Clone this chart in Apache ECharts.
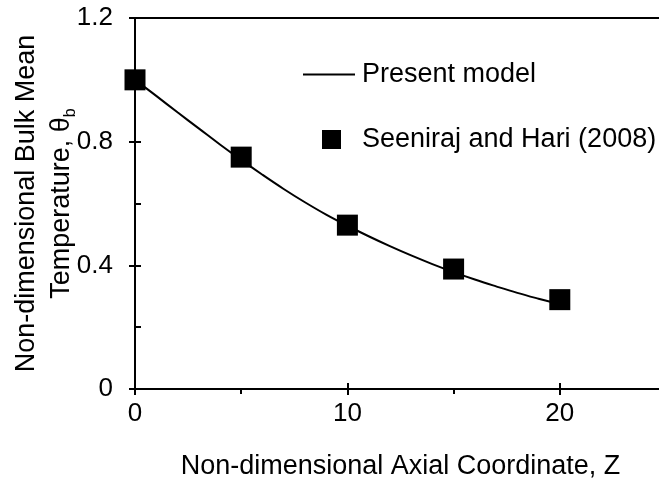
<!DOCTYPE html>
<html>
<head>
<meta charset="utf-8">
<script src="https://cdn.jsdelivr.net/npm/echarts@6/dist/echarts.min.js"></script>
<style>
  html, body { margin: 0; padding: 0; background: #fff; }
  #chart { width: 659px; height: 479px; }
</style>
</head>
<body>
<div id="chart"></div>
<script>
// present model curve
var zModel = [0, 1, 2, 3, 4, 5, 6, 7, 8, 9, 10, 11, 12, 13, 14, 15, 16, 17, 18, 19, 20];
var thetaModel = [1.0, 0.948, 0.895, 0.843, 0.791, 0.741, 0.693, 0.647, 0.604, 0.564, 0.528,
  0.494, 0.462, 0.432, 0.404, 0.378, 0.354, 0.332, 0.311, 0.292, 0.274];

// Seeniraj and Hari (2008)
var zRef = [0, 5, 10, 15, 20];
var thetaRef = [1.0, 0.75, 0.53, 0.388, 0.289];

var modelName = 'Present model';
var refName = 'Seeniraj and Hari (2008)';
var xTitle = 'Non-dimensional Axial Coordinate, Z';
var yTitle1 = 'Non-dimensional Bulk Mean';
var yTitle2 = 'Temperature, θ';

var font = 'Liberation Sans, Arial, sans-serif';
var ink = '#000';

var chart = echarts.init(document.getElementById('chart'));

var lineData = zModel.map(function (z, i) { return [z, thetaModel[i]]; });
var refData = zRef.map(function (z, i) { return [z, thetaRef[i]]; });

var option = {
  animation: false,
  backgroundColor: '#fff',
  textStyle: { fontFamily: font, color: ink },
  grid: {
    left: 135, top: 18, right: -7, bottom: 90,
    outerBoundsMode: 'none', containLabel: false,
    show: true, borderColor: ink, borderWidth: 2, backgroundColor: 'transparent'
  },
  legend: [
    {
      data: [{ name: modelName, icon: 'rect' }],
      left: 303, top: 61, padding: 0,
      itemWidth: 52, itemHeight: 2,
      textStyle: { fontFamily: font, fontSize: 27, color: ink, padding: [0, 0, 0, 2] }
    },
    {
      data: [{ name: refName, icon: 'rect' }],
      left: 322, top: 126, padding: 0,
      itemWidth: 19, itemHeight: 19,
      textStyle: { fontFamily: font, fontSize: 27, color: ink, padding: [0, 0, 0, 16] }
    }
  ],
  xAxis: [
    {
      type: 'value', min: 0, max: 25, interval: 10,
      splitLine: { show: false },
      axisLine: { onZero: false, lineStyle: { color: ink, width: 2 } },
      axisTick: { inside: false, length: 6, lineStyle: { color: ink, width: 2 } },
      minorTick: { show: true, splitNumber: 2, length: 5, lineStyle: { color: ink, width: 2 } },
      axisLabel: { fontFamily: font, fontSize: 26, color: ink, margin: 12, showMaxLabel: false },
      name: xTitle, nameLocation: 'middle', nameGap: 64, nameMoveOverlap: false,
      nameTextStyle: { fontFamily: font, fontSize: 27, color: ink }
    },
    {
      type: 'value', min: 0, max: 25, interval: 10, position: 'bottom',
      splitLine: { show: false },
      axisLine: { show: false },
      axisTick: { inside: true, length: 6, lineStyle: { color: ink, width: 2 } },
      axisLabel: { show: false }
    }
  ],
  yAxis: [
    {
      type: 'value', min: 0, max: 1.2, interval: 0.4,
      splitLine: { show: false },
      axisLine: { onZero: false, lineStyle: { color: ink, width: 2 } },
      axisTick: { inside: false, length: 6, lineStyle: { color: ink, width: 2 } },
      axisLabel: { fontFamily: font, fontSize: 26, color: ink, margin: 22 },
      name: '{t|' + yTitle1 + '}\n{t|' + yTitle2 + '}{s|b}',
      nameLocation: 'middle', nameRotate: 90, nameGap: 56, nameMoveOverlap: false,
      nameTextStyle: {
        fontFamily: font, color: ink,
        rich: {
          t: { fontFamily: font, fontSize: 27, color: ink, lineHeight: 35 },
          s: { fontFamily: font, fontSize: 16, color: ink, lineHeight: 35, verticalAlign: 'bottom', padding: [10, 0, 0, 0] }
        }
      }
    },
    {
      type: 'value', min: 0, max: 1.2, interval: 0.4, position: 'left',
      splitLine: { show: false },
      axisLine: { show: false },
      axisTick: { inside: true, length: 6, lineStyle: { color: ink, width: 2 } },
      minorTick: { show: true, splitNumber: 2, length: 6, lineStyle: { color: ink, width: 2 } },
      axisLabel: { show: false }
    }
  ],
  series: [
    {
      name: modelName,
      type: 'line',
      data: lineData,
      smooth: 0.4,
      symbol: 'none',
      lineStyle: { color: ink, width: 2 },
      itemStyle: { color: ink }
    },
    {
      name: refName,
      type: 'scatter',
      data: refData,
      symbol: 'rect',
      symbolSize: 21,
      itemStyle: { color: ink, opacity: 1 }
    }
  ]
};

chart.setOption(option);
</script>
</body>
</html>
